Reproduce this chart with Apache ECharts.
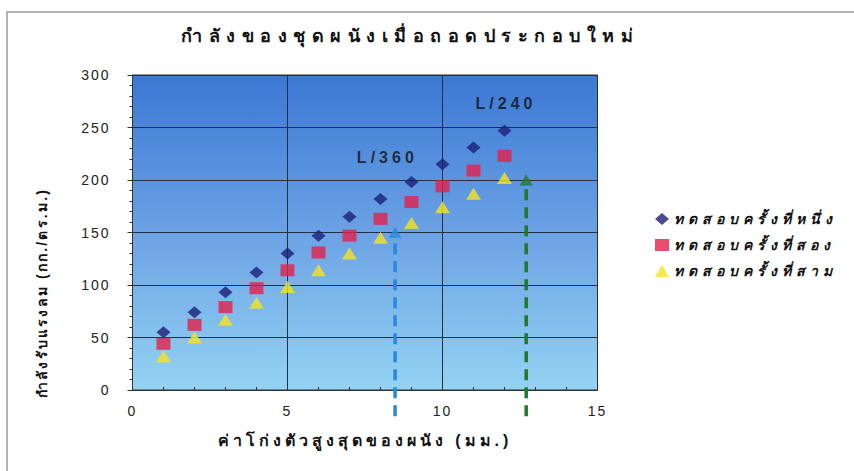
<!DOCTYPE html>
<html>
<head>
<meta charset="utf-8">
<script src="https://cdn.jsdelivr.net/npm/echarts@6/dist/echarts.min.js"></script>
<style>
  html, body { margin: 0; padding: 0; background: #fff; }
  #chart { width: 854px; height: 471px; }
</style>
</head>
<body>
<div id="chart"></div>
<script>
// Deflection (mm) at each load step
const deflection = [1, 2, 3, 4, 5, 6, 7, 8, 9, 10, 11, 12];

// Wind pressure resisted (kg/m²) for each test run
const test1 = [55, 74, 93, 112, 130, 147, 165, 182, 198, 215, 231, 247];
const test2 = [44, 62, 79, 97, 114, 131, 147, 163, 179, 194, 209, 223];
const test3 = [32, 50, 67, 83, 98, 114, 130, 145, 159, 174, 187, 202];

const seriesNames = ['ทดสอบครั้งที่หนึ่ง', 'ทดสอบครั้งที่สอง', 'ทดสอบครั้งที่สาม'];

// Deflection limits (span / 360 and span / 240) with their pressure levels
const limitL360 = { label: 'L/360', x: 8.47, y: 150, labelX: 8.22, labelY: 221 };
const limitL240 = { label: 'L/240', x: 12.7, y: 200, labelX: 12.05, labelY: 273 };
const limitBase = -25;

const titleText = 'กำลังของชุดผนังเมื่อถอดประกอบใหม่';
const xTitle = 'ค่าโก่งตัวสูงสุดของผนัง (มม.)';
const yTitle = 'กำลังรับแรงลม (กก./ตร.ม.)';

const FONT = 'Arial, "Liberation Sans", "Noto Sans", sans-serif';

function pairs(vals) {
  return deflection.map((x, i) => [x, vals[i]]);
}

// Dashed vertical guide rising from below the axis to the limit point
function limitLine(lim, color) {
  return {
    type: 'line',
    silent: true,
    clip: false,
    showSymbol: false,
    symbol: 'none',
    lineStyle: { color: color, type: [11, 7], width: 3.5 },
    data: [[lim.x, limitBase], [lim.x, lim.y - 4]],
    z: 6
  };
}

// Arrowhead at the top of a guide
function limitArrow(lim, color) {
  return {
    type: 'scatter',
    silent: true,
    clip: false,
    symbol: 'triangle',
    symbolSize: [13, 11],
    itemStyle: { color: color },
    data: [[lim.x, lim.y]],
    z: 7
  };
}

const chart = echarts.init(document.getElementById('chart'), null, { renderer: 'svg' });
chart.setOption({
  backgroundColor: '#ffffff',
  animation: false,
  title: {
    text: titleText,
    left: 405,
    top: 22,
    textAlign: 'center',
    textStyle: { fontFamily: FONT, fontSize: 18, fontWeight: 'bold', color: '#111' }
  },
  legend: {
    orient: 'vertical',
    left: 650,
    top: 207,
    itemGap: 12,
    itemWidth: 14,
    itemHeight: 12,
    textStyle: { fontFamily: FONT, fontSize: 14, fontStyle: 'italic', fontWeight: 'bold', color: '#111' },
    data: seriesNames
  },
  grid: {
    left: 132.5,
    right: 256.5,
    top: 75,
    bottom: 81,
    show: true,
    borderColor: '#333',
    borderWidth: 1,
    backgroundColor: new echarts.graphic.LinearGradient(0, 0, 0, 1, [
      { offset: 0, color: '#3b78d4' },
      { offset: 0.5, color: '#6ba2e4' },
      { offset: 1, color: '#94d3f3' }
    ])
  },
  xAxis: {
    type: 'value',
    min: 0,
    max: 15,
    interval: 5,
    name: xTitle,
    nameLocation: 'middle',
    nameGap: 42,
    nameTextStyle: { fontFamily: FONT, fontSize: 16, fontWeight: 'bold', color: '#111' },
    axisLine: { lineStyle: { color: '#333', width: 1 } },
    axisTick: { show: true, inside: true, length: 4, lineStyle: { color: '#333' } },
    minorTick: { show: true, splitNumber: 5, length: 3, lineStyle: { color: '#333' } },
    axisLabel: { margin: 14, fontFamily: FONT, fontSize: 14, color: '#222' },
    splitLine: { show: true, lineStyle: { color: '#24303f', width: 1 } }
  },
  yAxis: {
    type: 'value',
    min: 0,
    max: 300,
    interval: 50,
    axisLine: { show: true, lineStyle: { color: '#333', width: 1 } },
    axisTick: { show: true, length: 5, lineStyle: { color: '#333' } },
    minorTick: { show: true, splitNumber: 5, length: 3, lineStyle: { color: '#333' } },
    axisLabel: { margin: 22, fontFamily: FONT, fontSize: 14, color: '#222' },
    splitLine: { show: true, lineStyle: { color: '#24303f', width: 1 } }
  },
  graphic: [
    {
      type: 'rect',
      silent: true,
      shape: { x: 7, y: 12, width: 900, height: 500 },
      style: { fill: 'none', stroke: '#9a9a9a', lineWidth: 1.5 },
      z: -1
    },
    {
      type: 'text',
      x: 42,
      y: 293,
      rotation: Math.PI / 2,
      style: {
        text: yTitle,
        align: 'center',
        verticalAlign: 'middle',
        font: 'bold 14px ' + FONT,
        fill: '#111'
      }
    }
  ],
  series: [
    {
      name: seriesNames[0],
      type: 'scatter',
      symbol: 'diamond',
      symbolSize: [14, 12],
      itemStyle: { color: '#1c1f78' },
      data: pairs(test1),
      z: 5
    },
    {
      name: seriesNames[1],
      type: 'scatter',
      symbol: 'rect',
      symbolSize: [14, 12],
      itemStyle: { color: '#e4204c' },
      data: pairs(test2),
      z: 4
    },
    {
      name: seriesNames[2],
      type: 'scatter',
      symbol: 'triangle',
      symbolSize: [15, 12],
      itemStyle: { color: '#f7e21e' },
      data: pairs(test3),
      z: 3
    },
    limitLine(limitL360, '#2a86e2'),
    limitArrow(limitL360, '#2a86e2'),
    limitLine(limitL240, '#1d7a2c'),
    limitArrow(limitL240, '#1d7a2c'),
    {
      type: 'scatter',
      silent: true,
      symbolSize: 0,
      data: [
        { value: [limitL360.labelX, limitL360.labelY], name: limitL360.label },
        { value: [limitL240.labelX, limitL240.labelY], name: limitL240.label }
      ],
      label: {
        show: true,
        position: 'inside',
        formatter: p => p.name,
        fontFamily: FONT,
        fontSize: 16,
        fontWeight: 'bold',
        color: '#111'
      }
    }
  ]
});

// Spaced-out lettering for the chart's text
function applyTracking() {
  const spacing = new Map([
    [titleText, 6.5],
    [xTitle, 4],
    [yTitle, 2.2],
    [limitL360.label, 4],
    [limitL240.label, 4]
  ]);
  seriesNames.forEach(n => spacing.set(n, 5));
  document.querySelectorAll('#chart svg text').forEach(t => {
    const s = t.textContent;
    let px = spacing.get(s);
    if (px === undefined && /^\d+$/.test(s)) px = 2;
    if (px !== undefined) t.style.letterSpacing = px + 'px';
  });
}
applyTracking();
chart.on('finished', applyTracking);
</script>
</body>
</html>
